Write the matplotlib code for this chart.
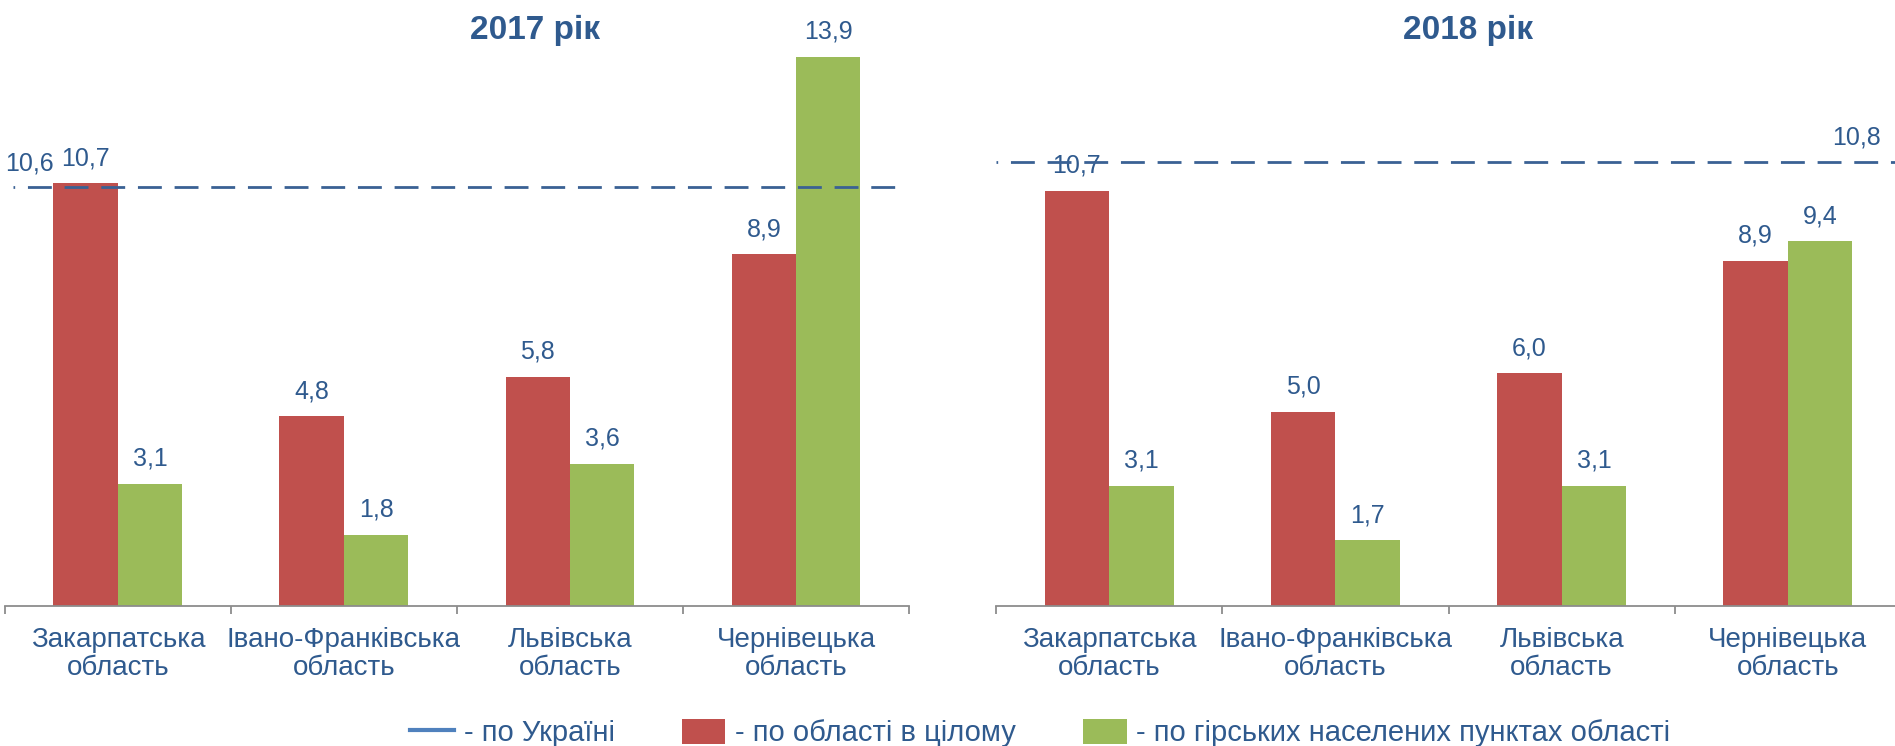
import matplotlib.pyplot as plt
from matplotlib.lines import Line2D
from matplotlib.patches import Patch
import numpy as np

plt.rcParams['font.family'] = ['Liberation Sans', 'DejaVu Sans']

# Data
regions = ['Закарпатська\nобласть', 'Івано-Франківська\nобласть',
           'Львівська\nобласть', 'Чернівецька\nобласть']
region_2017 = [10.7, 4.8, 5.8, 8.9]
mountain_2017 = [3.1, 1.8, 3.6, 13.9]
region_2018 = [10.7, 5.0, 6.0, 8.9]
mountain_2018 = [3.1, 1.7, 3.1, 9.4]
ukraine_2017 = 10.6
ukraine_2018 = 10.8
legend_labels = ['- по Україні', '- по області в цілому',
                 '- по гірських населених пунктах області']

# Colours
RED = '#C0504D'
GREEN = '#9BBB59'
LINE = '#3A6194'
TEXT = '#2F5A8E'
AXIS = '#8C8C8C'

fig = plt.figure(figsize=(18.95, 7.46), dpi=100)
ax1 = fig.add_axes([0.00253, 0.1877, 0.4772, 0.7942])
ax2 = fig.add_axes([0.5256, 0.1877, 0.4776, 0.7942])

x = np.arange(len(regions))
w = 0.285
dash = (8.0, (8.6, 4.6))


def fmt(v):
    return f'{v:.1f}'.replace('.', ',')


def draw_panel(ax, red, green, top):
    b1 = ax.bar(x - w / 2, red, w, color=RED)
    b2 = ax.bar(x + w / 2, green, w, color=GREEN)
    for bars, vals in ((b1, red), (b2, green)):
        for rect, v in zip(bars, vals):
            ax.annotate(fmt(v), (rect.get_x() + rect.get_width() / 2, v),
                        xytext=(0, 18), textcoords='offset points',
                        ha='center', va='center', fontsize=18, color=TEXT)
    ax.set_xlim(-0.5, 3.5)
    ax.set_ylim(0, top)
    for s in ('top', 'left', 'right'):
        ax.spines[s].set_visible(False)
    ax.spines['bottom'].set_color(AXIS)
    ax.spines['bottom'].set_linewidth(1.3)
    ax.set_yticks([])
    ax.set_xticks(x)
    ax.set_xticklabels(regions, fontsize=20, color=TEXT, linespacing=1.1)
    ax.set_xticks(np.arange(-0.5, 4, 1), minor=True)
    ax.tick_params(axis='x', which='major', length=0, pad=15)
    ax.tick_params(axis='x', which='minor', length=6, width=1.3, color=AXIS)
    ax.patch.set_visible(False)


draw_panel(ax1, region_2017, mountain_2017, 15.0)
draw_panel(ax2, region_2018, mountain_2018, 15.27)

# Ukraine average, 2017
ax1.axhline(ukraine_2017, xmin=0.009, xmax=0.987, color=LINE, lw=2,
            linestyle=dash, zorder=3)
ax1.annotate(fmt(ukraine_2017), (0.027, ukraine_2017),
             xycoords=('axes fraction', 'data'), xytext=(0, 17),
             textcoords='offset points', ha='center', va='center',
             fontsize=18, color=TEXT)

# Ukraine average, 2018 (secondary scale)
tw = ax2.twinx()
tw.set_ylim(0, 14.42)
tw.axis('off')
tw.axhline(ukraine_2018, xmin=0, xmax=1, color=LINE, lw=2,
           linestyle=dash, zorder=3)
tw.annotate(fmt(ukraine_2018), (0.951, ukraine_2018),
            xycoords=('axes fraction', 'data'), xytext=(0, 18),
            textcoords='offset points', ha='center', va='center',
            fontsize=18, color=TEXT)

# Titles
fig.text(0.2823, 0.948, '2017 рік', ha='center', va='baseline',
         fontsize=24, fontweight='bold', color=TEXT)
fig.text(0.7745, 0.948, '2018 рік', ha='center', va='baseline',
         fontsize=24, fontweight='bold', color=TEXT)

# Legend
handles = [Line2D([], [], color='#4F81BD', lw=3),
           Patch(facecolor=RED, edgecolor='none'),
           Patch(facecolor=GREEN, edgecolor='none')]
leg = fig.legend(handles, legend_labels, loc='center', ncol=3,
                 bbox_to_anchor=(0.549, 0.0175), frameon=False,
                 fontsize=21, handlelength=1.5, handleheight=0.95,
                 handletextpad=0.33, columnspacing=2.3)
for t in leg.get_texts():
    t.set_color(TEXT)

fig.savefig('out.png', dpi=100)
